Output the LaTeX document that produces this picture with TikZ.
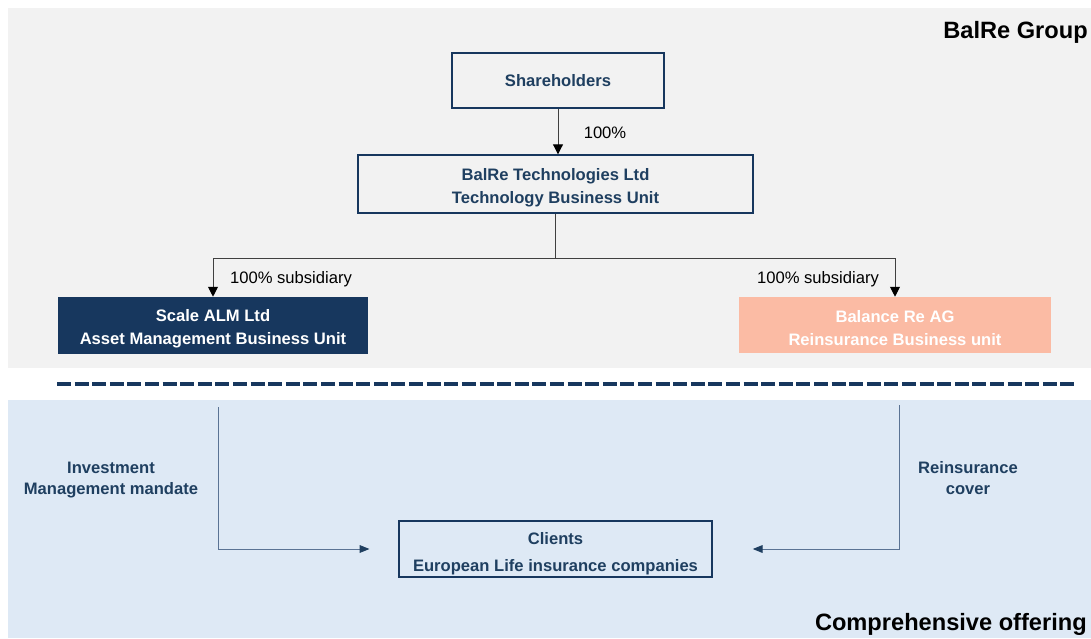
\documentclass[tikz,border=0pt]{standalone}
\usepackage{fontspec}
\setmainfont{Liberation Sans}
\usetikzlibrary{arrows.meta}
\definecolor{navy}{HTML}{17375E}
\definecolor{textblue}{HTML}{1F3F60}
\definecolor{salmon}{HTML}{FBBBA4}
\definecolor{groupgrey}{HTML}{F2F2F2}
\definecolor{offerblue}{HTML}{DEE9F5}
\definecolor{flowline}{HTML}{5A7394}
\begin{document}
\begin{tikzpicture}[x=0.025cm, y=-0.025cm,
  entity/.style={draw=navy, line width=1pt, inner sep=0pt, align=center, text=textblue, font=\fontsize{11.8}{16.5}\selectfont\bfseries},
  unit/.style={inner sep=0pt, align=center, text=white, font=\fontsize{11.8}{16.5}\selectfont\bfseries},
  note/.style={inner sep=0pt, align=center, font=\fontsize{11.8}{15}\selectfont},
  flowtext/.style={inner sep=0pt, align=center, text=textblue, font=\fontsize{11.8}{15}\selectfont\bfseries},
  title/.style={inner sep=0pt, anchor=east, font=\fontsize{16.8}{20}\selectfont\bfseries},
  owns/.style={draw=black!75, line width=0.7pt, -{Triangle[length=7pt,width=7pt,color=black]}},
  flow/.style={draw=flowline, line width=0.7pt, -{Triangle[length=7pt,width=5.5pt,color=textblue]}}]
\useasboundingbox (0,0) rectangle (1091,638);
% background bands
\fill [groupgrey] (8,8) rectangle (1091,368);
\fill [offerblue] (8,400) rectangle (1091,638);
\draw [navy, line width=2.8pt, dash pattern=on 0.35cm off 0.09cm] (57,384) -- (1075,384);
\node (group) at (1088,32) [title] {BalRe Group};
\node (offering) at (1087,624) [title] {Comprehensive offering};
% group structure
\node (share) at (558,80.5) [entity, minimum width=5.3cm, minimum height=1.375cm] {Shareholders};
\node (tech) at (555.5,184) [entity, minimum width=9.875cm, minimum height=1.45cm] {\rule{0pt}{14pt}BalRe Technologies Ltd \\ Technology Business Unit};
\node (scale) at (213,325.5) [unit, fill=navy, minimum width=7.75cm, minimum height=1.425cm] {\rule{0pt}{13pt}Scale ALM Ltd \\ Asset Management Business Unit};
\node (balance) at (895,325) [unit, fill=salmon, minimum width=7.8cm, minimum height=1.4cm] {\rule{0pt}{13pt}Balance Re AG \\ Reinsurance Business unit};
\coordinate (fork) at (555.5,258);
\draw [owns] (share.south) -- (share.south |- tech.north);
\node (sharelabel) at (605,133) [note] {100\%};
\draw [owns] (tech.south) -- (fork) -| (scale.north);
\draw [owns] (fork) -| (balance.north);
\node (scalelabel) at (291,279) [note] {100\% subsidiary};
\node (balancelabel) at (818,279) [note] {100\% subsidiary};
% offering
\node (clients) at (555.5,549) [entity, minimum width=7.825cm, minimum height=1.4cm] {\rule{0pt}{15pt}Clients \\[2.5pt] European Life insurance companies};
\coordinate (imstart) at (218,407);
\coordinate (rcstart) at (899,405);
\draw [flow, shorten >=0.72cm] (imstart) |- (clients.west);
\draw [flow, shorten >=1cm] (rcstart) |- (clients.east);
\node (imlabel) at (111,480) [flowtext] {Investment \\ Management mandate};
\node (rclabel) at (968,478) [flowtext] {Reinsurance \\ cover};
\end{tikzpicture}
\end{document}
